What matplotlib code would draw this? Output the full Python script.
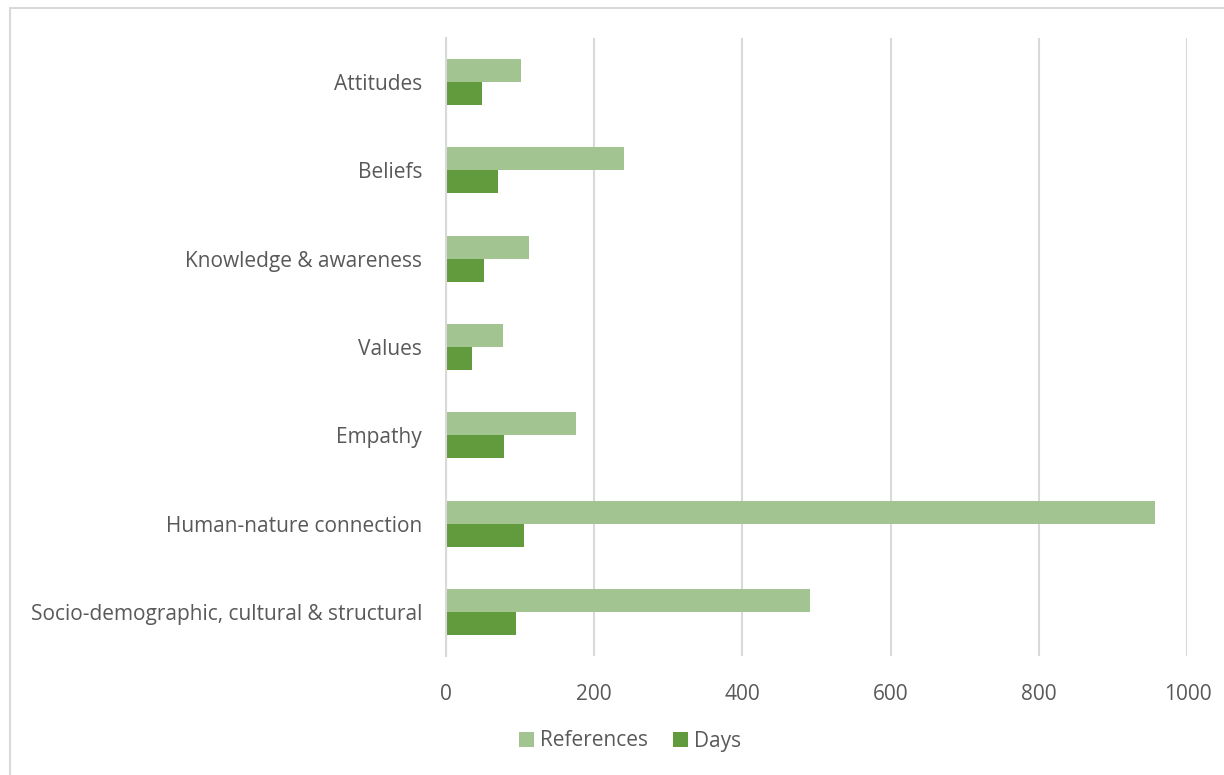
import numpy as np
import matplotlib
matplotlib.use("Agg")
from matplotlib import pyplot as plt
from matplotlib.patches import Rectangle

# Factores (de abajo hacia arriba en el eje)
categorias = ["Socio-demographic, cultural & structural", "Human-nature connection",
              "Empathy", "Values", "Knowledge & awareness", "Beliefs", "Attitudes"]
referencias = [491, 956, 176, 77, 112, 240, 102]
dias = [95, 106, 78, 36, 52, 71, 49]
ticks_x = [0, 200, 400, 600, 800, 1000]

color_ref = "#A2C490"
color_dias = "#629A3E"
color_texto = "#595959"
color_rejilla = "#D9D9D9"

plt.rcParams['font.family'] = ['Open Sans', 'DejaVu Sans']

fig = plt.figure(figsize=(12.24, 7.75), dpi=100)
ax = fig.add_axes([0.3641, 0.1535, 0.6060, 0.7975])

y = np.arange(len(categorias))
alto = 0.26
ax.barh(y + alto / 2, referencias, height=alto, color=color_ref, label="References")
ax.barh(y - alto / 2, dias, height=alto, color=color_dias, label="Days")

ax.set_xlim(0, 1000)
ax.set_ylim(-0.5, len(categorias) - 0.5)
ax.set_xticks(ticks_x)
ax.set_yticks(y)
ax.set_yticklabels(categorias)
ax.tick_params(axis='both', length=0, labelsize=15, colors=color_texto)
ax.tick_params(axis='x', pad=20)
ax.tick_params(axis='y', pad=17)

ax.grid(axis='x', color=color_rejilla, linewidth=1.5)
ax.set_axisbelow(True)
for lado in ["top", "right", "bottom"]:
    ax.spines[lado].set_visible(False)
ax.spines["left"].set_color(color_rejilla)
ax.spines["left"].set_linewidth(1.5)

# leyenda abajo, centrada
h, l = ax.get_legend_handles_labels()
fig.legend(h, l, loc="center", bbox_to_anchor=(630 / 1224, 1 - 741 / 775), ncol=2,
           frameon=False, fontsize=15, labelcolor=color_texto,
           handlelength=0.7, handleheight=0.7, handletextpad=0.3, columnspacing=1.2)

# marco del grafico
fig.patches.append(Rectangle((10 / 1224, -0.05), 1.1, 1.05 - 8 / 775,
                             transform=fig.transFigure, fill=False,
                             edgecolor=color_rejilla, linewidth=1.5))

fig.savefig("out.png", dpi=100)
